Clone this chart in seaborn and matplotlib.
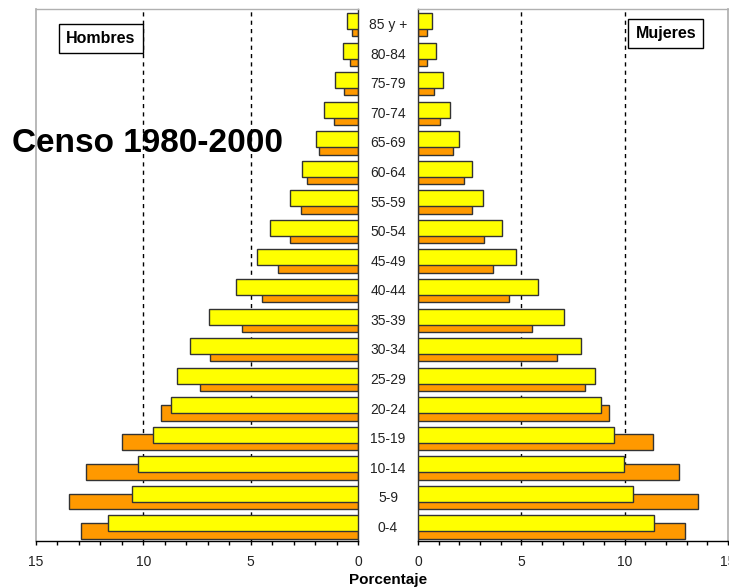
import numpy as np
import pandas as pd
import matplotlib
matplotlib.use("Agg")
import matplotlib.pyplot as plt
import seaborn as sns
from matplotlib.ticker import MultipleLocator

# ---- data (percent), from youngest to oldest ----
age_groups = ["0-4", "5-9", "10-14", "15-19", "20-24", "25-29", "30-34", "35-39",
              "40-44", "45-49", "50-54", "55-59", "60-64", "65-69", "70-74",
              "75-79", "80-84", "85 y +"]
men_1980 = [12.90, 13.48, 12.67, 10.98, 9.18, 7.38, 6.91, 5.40, 4.47, 3.73,
            3.19, 2.67, 2.38, 1.80, 1.10, 0.67, 0.39, 0.28]
men_2000 = [11.63, 10.51, 10.23, 9.53, 8.71, 8.42, 7.84, 6.96, 5.70, 4.70,
            4.12, 3.19, 2.61, 1.97, 1.57, 1.09, 0.70, 0.51]
women_1980 = [12.93, 13.53, 12.63, 11.35, 9.24, 8.09, 6.71, 5.50, 4.42, 3.63,
              3.21, 2.59, 2.24, 1.69, 1.08, 0.79, 0.42, 0.42]
women_2000 = [11.42, 10.38, 9.95, 9.48, 8.87, 8.58, 7.90, 7.06, 5.81, 4.72,
              4.05, 3.14, 2.59, 1.98, 1.56, 1.21, 0.85, 0.66]

YELLOW = "#FFFF00"
ORANGE = "#FF9900"

pos = np.arange(len(age_groups))
df = pd.DataFrame({
    "pos": pos,
    "men_1980": men_1980, "men_2000": men_2000,
    "women_1980": women_1980, "women_2000": women_2000,
})
df["pos_1980"] = df["pos"] - 0.16
df["pos_2000"] = df["pos"] + 0.095

sns.set_theme(style="white")
plt.rcParams["font.family"] = ["Liberation Sans", "DejaVu Sans"]

W, H = 729, 587
fig = plt.figure(figsize=(W / 100, H / 100), dpi=100)
top_px, bot_px = 9, 541
axL = fig.add_axes([36 / W, (H - bot_px) / H, (358 - 36) / W, (bot_px - top_px) / H])
axR = fig.add_axes([418 / W, (H - bot_px) / H, (728 - 418) / W, (bot_px - top_px) / H])

for ax, c80, c00 in [(axL, "men_1980", "men_2000"), (axR, "women_1980", "women_2000")]:
    for xv in (5, 10):
        ax.axvline(xv, color="black", lw=1.0, ls=(0, (3, 3)), zorder=0)
    sns.barplot(data=df, x=c80, y="pos_1980", orient="y", native_scale=True,
                color=ORANGE, saturation=1, width=0.53, edgecolor="#333333",
                linewidth=1.0, errorbar=None, ax=ax, zorder=2)
    sns.barplot(data=df, x=c00, y="pos_2000", orient="y", native_scale=True,
                color=YELLOW, saturation=1, width=0.54, edgecolor="#333333",
                linewidth=1.0, errorbar=None, ax=ax, zorder=3)
    ax.set_ylim(-0.5, len(age_groups) - 0.5)
    ax.set_xlabel("")
    ax.set_ylabel("")
    ax.xaxis.set_major_locator(MultipleLocator(5))
    ax.xaxis.set_minor_locator(MultipleLocator(1))
    ax.tick_params(axis="x", which="both", direction="out", length=3, width=1,
                   color="black", bottom=True, labelsize=10, labelcolor="#222222", pad=7)
    ax.set_facecolor("white")
    ax.spines["bottom"].set_color("black")
    ax.spines["bottom"].set_linewidth(1.0)
    ax.spines["top"].set_color("#b0b0b0")
    ax.spines["top"].set_linewidth(1.0)

axL.set_xlim(15, 0)
axR.set_xlim(0, 15)

axL.set_yticks([])
axL.spines["left"].set_color("#b0b0b0")
axL.spines["right"].set_color("#333333")
axL.spines["right"].set_linewidth(1.0)

axR.spines["right"].set_color("#b0b0b0")
axR.spines["left"].set_color("#333333")
axR.spines["left"].set_linewidth(1.0)
axR.set_yticks(pos)
axR.set_yticklabels(age_groups)
axR.tick_params(axis="y", length=0, pad=21.6, labelsize=10, labelcolor="#222222")
for lab in axR.get_yticklabels():
    lab.set_horizontalalignment("center")

# labels and boxes
axL.text(101 / W, 1 - 38.5 / H, "Hombres", transform=fig.transFigure,
         ha="center", va="center", fontsize=11.5, fontweight="bold", color="black",
         bbox=dict(boxstyle="square,pad=0.45", facecolor="white", edgecolor="black", lw=1.0),
         zorder=5)
axR.text(665.7 / W, 1 - 33.3 / H, "Mujeres", transform=fig.transFigure,
         ha="center", va="center", fontsize=11.5, fontweight="bold", color="black",
         bbox=dict(boxstyle="square,pad=0.45", facecolor="white", edgecolor="black", lw=1.0),
         zorder=5)
fig.text(12 / W, 1 - 144 / H, "Censo 1980-2000", ha="left", va="center",
         fontsize=24, fontweight="bold", color="black")
fig.text(388 / W, 1 - 573 / H, "Porcentaje", ha="center", va="top",
         fontsize=11, fontweight="bold", color="black")

fig.savefig("out.png", dpi=100, facecolor="white")
